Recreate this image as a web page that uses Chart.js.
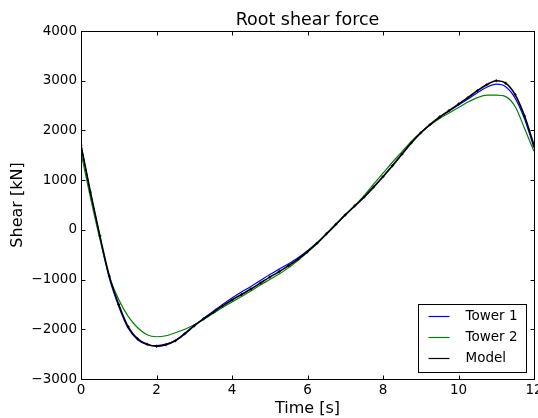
<!DOCTYPE html>
<html>
<head>
<meta charset="utf-8">
<script src="https://cdn.jsdelivr.net/npm/chart.js@4/dist/chart.umd.min.js"></script>
<style>
  html, body { margin: 0; padding: 0; background: #fff; }
  #wrap { width: 538px; height: 418px; }
</style>
</head>
<body>
<div id="wrap"><canvas id="myChart"></canvas></div>
<script>
// time samples, every 0.25 s
var time = [];
for (var i = 0; i <= 48; i++) time.push(i * 0.25);

var tower1 = [
  1700, 740, -150, -970, -1540, -1980, -2210, -2310, -2330, -2300, -2220, -2080,
  -1920, -1780, -1640, -1500, -1370, -1250, -1140, -1020, -900, -790, -680, -560,
  -420, -260, -80, 110, 300, 480, 660, 860, 1070, 1290, 1520, 1750,
  1950, 2120, 2260, 2390, 2510, 2630, 2760, 2870, 2930, 2880, 2650, 2230,
  1650
];
var tower2 = [
  1550, 650, -180, -930, -1400, -1740, -1970, -2110, -2150, -2130, -2070, -2000,
  -1910, -1800, -1680, -1560, -1450, -1340, -1230, -1110, -1000, -890, -760, -610,
  -450, -280, -90, 100, 300, 490, 690, 920, 1140, 1360, 1570, 1780,
  1960, 2110, 2240, 2350, 2460, 2570, 2660, 2710, 2710, 2680, 2480, 2040,
  1580
];
var model = [
  1700, 760, -120, -930, -1500, -1950, -2190, -2300, -2340, -2310, -2230, -2090,
  -1930, -1790, -1660, -1530, -1410, -1300, -1190, -1070, -950, -840, -720, -590,
  -440, -270, -80, 110, 300, 480, 660, 860, 1070, 1290, 1520, 1750,
  1950, 2120, 2270, 2400, 2530, 2660, 2800, 2920, 3000, 2950, 2720, 2290,
  1700
];
var xTicks = [0, 2, 4, 6, 8, 10, 12];
var yTicks = [-3000, -2000, -1000, 0, 1000, 2000, 3000, 4000];
var title = 'Root shear force';

function pts(vals) {
  return vals.map(function(v, i) { return { x: time[i], y: v }; });
}

var font = 'DejaVu Sans';

// box around the axes with inward ticks on all four sides, title over the axes, legend
var frame = {
  id: 'frame',
  afterDatasetsDraw: function(chart) {
    var c = chart.ctx, a = chart.chartArea;
    var xs = chart.scales.x, ys = chart.scales.y;
    var L = Math.round(a.left) + 0.5, R = Math.round(a.right) + 0.5;
    var T = Math.round(a.top) + 0.5, B = Math.round(a.bottom) + 0.5;
    c.save();
    c.strokeStyle = '#000';
    c.lineWidth = 1;
    c.strokeRect(L, T, R - L, B - T);
    c.beginPath();
    xTicks.forEach(function(v) {
      var px = Math.round(xs.getPixelForValue(v)) + 0.5;
      c.moveTo(px, B); c.lineTo(px, B - 4);
      c.moveTo(px, T); c.lineTo(px, T + 4);
    });
    yTicks.forEach(function(v) {
      var py = Math.round(ys.getPixelForValue(v)) + 0.5;
      c.moveTo(L, py); c.lineTo(L + 4, py);
      c.moveTo(R, py); c.lineTo(R - 4, py);
    });
    c.stroke();

    c.fillStyle = '#000';
    c.font = '17.5px "' + font + '"';
    c.textAlign = 'center';
    c.textBaseline = 'middle';
    c.fillText(title, (a.left + a.right) / 2, a.top - 11);

    // legend
    var w = 108, h = 68;
    var lx = Math.round(a.right - 8 - w) + 0.5, ly = Math.round(a.bottom - 7 - h) + 0.5;
    c.fillStyle = '#fff';
    c.fillRect(lx, ly, w, h);
    c.strokeRect(lx, ly, w, h);
    c.font = '13.5px "' + font + '"';
    c.textAlign = 'left';
    chart.data.datasets.forEach(function(ds, i) {
      var y = ly + 12 + i * 21;
      c.strokeStyle = ds.borderColor;
      c.lineWidth = 1.2;
      c.beginPath();
      c.moveTo(lx + 10, y); c.lineTo(lx + 31, y);
      c.stroke();
      c.fillStyle = '#000';
      c.fillText(ds.label, lx + 47, y);
    });
    c.restore();
  }
};

var ctx = document.getElementById('myChart').getContext('2d');

var chart = new Chart(ctx, {
  type: 'line',
  data: {
    datasets: [{
      label: 'Tower 1',
      data: pts(tower1),
      borderColor: '#0000ff',
      borderWidth: 1.2,
      pointRadius: 0,
      order: 3
    },
    {
      label: 'Tower 2',
      data: pts(tower2),
      borderColor: '#008000',
      borderWidth: 1.2,
      pointRadius: 0,
      order: 2
    },
    {
      label: 'Model',
      data: pts(model),
      borderColor: '#000000',
      borderWidth: 1.6,
      pointStyle: 'cross',
      pointRadius: 1.5,
      pointBorderWidth: 1,
      pointBorderColor: '#000000',
      order: 1
    }]
  },
  plugins: [frame],
  options: {
    responsive: true,
    maintainAspectRatio: false,
    animation: false,
    devicePixelRatio: 1,
    cubicInterpolationMode: 'monotone',
    layout: { autoPadding: false, padding: { left: 0, right: 4, top: 31, bottom: 0 } },
    plugins: {
      legend: { display: false },
      tooltip: { enabled: false },
      title: { display: false }
    },
    scales: {
      x: {
        type: 'linear',
        min: 0,
        max: 12,
        grid: { display: false, drawTicks: false },
        border: { display: false },
        afterFit: function(s) {
          s.height = 39;
          s.paddingLeft = 0;
          s.paddingRight = 0;
        },
        afterBuildTicks: function(s) {
          s.ticks = xTicks.map(function(v) { return { value: v }; });
        },
        ticks: {
          color: '#000',
          padding: 3,
          maxRotation: 0,
          font: { family: font, size: 13.5 }
        },
        title: {
          display: true,
          text: 'Time [s]',
          color: '#000',
          font: { family: font, size: 16 },
          padding: { top: 0, bottom: 0 }
        }
      },
      y: {
        type: 'linear',
        min: -3000,
        max: 4000,
        grid: { display: false, drawTicks: false },
        border: { display: false },
        afterFit: function(s) {
          s.width = 81;
          s.paddingTop = 0;
          s.paddingBottom = 0;
        },
        afterBuildTicks: function(s) {
          s.ticks = yTicks.map(function(v) { return { value: v }; });
        },
        ticks: {
          color: '#000',
          padding: 4,
          font: { family: font, size: 13.5 },
          callback: function(v) { return v < 0 ? '\u2212' + Math.abs(v) : String(v); }
        },
        title: {
          display: true,
          text: 'Shear [kN]',
          color: '#000',
          font: { family: font, size: 16 },
          padding: { top: 8, bottom: 0 }
        }
      }
    }
  }
});
</script>
</body>
</html>
